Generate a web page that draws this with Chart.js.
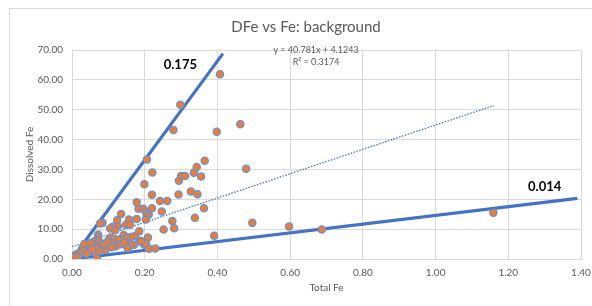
<!DOCTYPE html>
<html>
<head>
<meta charset="utf-8">
<script src="https://cdn.jsdelivr.net/npm/chart.js@4"></script>
<style>
    body { margin: 0; background: #fff; }
    #frame { position: absolute; left: 9px; top: 8px; width: 620px; height: 320px; border: 1px solid #d9d9d9; }
    #chart { position: absolute; left: 0; top: 0; }
</style>
</head>
<body>
<div id="frame"></div>
<canvas id="chart" width="592" height="306"></canvas>
<script>
// valores
const totalFe = [0.206, 0.221, 0.199, 0.294, 0.300, 0.311, 0.335, 0.343, 0.365, 0.355, 0.479, 0.220, 0.293, 0.327, 0.345,
    0.242, 0.262, 0.178, 0.183, 0.196, 0.220, 0.203, 0.211, 0.206, 0.203, 0.247, 0.363, 0.135, 0.178, 0.157,
    0.148, 0.160, 0.124, 0.126, 0.112, 0.105, 0.119, 0.084, 0.077, 0.276, 0.281, 0.252, 0.338, 0.496, 0.391,
    0.597, 0.185, 0.174, 0.162, 0.148, 0.142, 0.209, 0.185, 0.199, 0.203, 0.171, 0.162, 0.153, 0.212, 0.229,
    0.072, 0.072, 0.069, 0.061, 0.075, 0.084, 0.093, 0.102, 0.107, 0.116, 0.112, 0.102, 0.084, 0.069, 0.061,
    0.048, 0.043, 0.057, 0.034, 0.029, 0.020, 0.011, 0.040, 0.066, 0.069, 0.000, 0.006, 0.075, 0.130, 0.121,
    0.093, 0.075, 0.052, 0.034, 0.407, 0.298, 0.279, 0.398, 0.463, 1.159, 0.687, 0.065, 0.088, 0.098, 0.110,
    0.055, 0.150, 0.190, 0.135, 0.145, 0.016, 0.003];
const dissolvedFe = [33.3, 29.0, 25.0, 26.2, 27.8, 27.8, 28.9, 30.8, 32.9, 27.6, 30.2, 21.5, 21.6, 22.6, 21.7,
    19.4, 19.4, 19.0, 16.8, 16.8, 17.0, 15.7, 14.9, 14.3, 13.2, 15.9, 17.0, 15.1, 13.4, 13.2,
    11.5, 11.5, 13.0, 11.0, 10.8, 10.2, 9.6, 12.1, 11.9, 12.7, 10.3, 9.9, 13.8, 12.1, 7.8,
    10.9, 9.3, 7.8, 7.4, 7.4, 8.0, 7.2, 5.9, 4.8, 5.2, 4.8, 4.6, 3.7, 3.4, 3.5,
    8.2, 7.4, 6.5, 5.9, 5.9, 5.0, 5.2, 6.5, 7.1, 6.7, 5.2, 4.3, 3.5, 4.3, 4.6,
    4.3, 3.1, 2.6, 2.6, 3.7, 2.0, 1.5, 1.8, 1.7, 0.1, 0.2, 1.1, 4.3, 6.5, 4.3,
    3.1, 2.6, 5.4, 5.0, 61.9, 51.7, 43.2, 42.6, 45.1, 15.5, 9.9, 3.8, 4.8, 5.8, 3.9,
    3.2, 7.0, 6.0, 4.9, 5.5, 0.6, 0.5];

// retas de referência (extremos)
const upperLineX = [0, 0.415];
const upperLineY = [0, 68.8];
const lowerLineX = [0, 1.39];
const lowerLineY = [0, 20.3];
const trendX = [0, 1.16];
const trendY = [4.12, 51.4];

const xTicks = [0, 0.2, 0.4, 0.6, 0.8, 1.0, 1.2, 1.4];
const yTicks = [0, 10, 20, 30, 40, 50, 60, 70];

const FONT = 'Lato, "Open Sans", sans-serif';
const GREY = '#595959';

function pares(xs, ys) {
    return xs.map(function(x, i) { return { x: x, y: ys[i] }; });
}

// textos soltos: título, equação e rótulos das retas
const textos = {
    id: 'textos',
    afterDraw: function(chart) {
        const c = chart.ctx;
        const xs = chart.scales.x, ys = chart.scales.y;
        c.save();
        c.textAlign = 'center';
        c.textBaseline = 'middle';
        c.fillStyle = GREY;
        c.font = '15px ' + FONT;
        c.fillText('DFe vs Fe: background', 306, 27);
        c.font = '9px ' + FONT;
        c.fillText('y = 40.781x + 4.1243', 316, 50);
        c.fillText('R² = 0.3174', 316, 62);
        c.fillStyle = '#000';
        c.font = 'bold 13px ' + FONT;
        c.fillText('0.175', xs.getPixelForValue(0.298), ys.getPixelForValue(65));
        c.fillText('0.014', xs.getPixelForValue(1.30), ys.getPixelForValue(24.3));
        c.restore();
    }
};

new Chart(document.getElementById('chart'), {
    type: 'scatter',
    data: {
        datasets: [{
            label: 'DFe',
            data: pares(totalFe, dissolvedFe),
            backgroundColor: '#ED7D31',
            borderColor: '#6A90D2',
            borderWidth: 1.3,
            pointRadius: 3.6,
            order: 0
        }, {
            label: 'upper',
            data: pares(upperLineX, upperLineY),
            showLine: true,
            borderColor: '#4472C4',
            borderWidth: 3.2,
            pointRadius: 0,
            order: 1
        }, {
            label: 'lower',
            data: pares(lowerLineX, lowerLineY),
            showLine: true,
            borderColor: '#4472C4',
            borderWidth: 3.2,
            pointRadius: 0,
            order: 1
        }, {
            label: 'trend',
            data: pares(trendX, trendY),
            showLine: true,
            borderColor: '#4472C4',
            borderWidth: 1.3,
            borderDash: [1.5, 1.5],
            pointRadius: 0,
            order: 1
        }]
    },
    options: {
        responsive: false,
        animation: false,
        layout: {
            padding: { top: 50, right: 11, bottom: 0, left: 10 }
        },
        plugins: {
            legend: { display: false },
            title: { display: false },
            tooltip: { enabled: false }
        },
        scales: {
            x: {
                type: 'linear',
                min: 0,
                max: 1.4,
                afterFit: function(scale) {
                    scale.height = 47;
                    scale.paddingLeft = 0;
                    scale.paddingRight = 0;
                },
                afterBuildTicks: function(scale) {
                    scale.ticks = xTicks.map(function(v) { return { value: v }; });
                },
                ticks: {
                    padding: 8,
                    color: GREY,
                    font: { family: FONT, size: 10 },
                    callback: function(v) { return Number(v).toFixed(2); }
                },
                grid: { color: '#d9d9d9', drawTicks: false },
                border: { color: '#d9d9d9' },
                title: {
                    display: true,
                    text: 'Total Fe',
                    color: GREY,
                    font: { family: FONT, size: 10 },
                    padding: { top: 12, bottom: 12 }
                }
            },
            y: {
                type: 'linear',
                min: 0,
                max: 70,
                afterFit: function(scale) { scale.width = 62; },
                afterBuildTicks: function(scale) {
                    scale.ticks = yTicks.map(function(v) { return { value: v }; });
                },
                ticks: {
                    padding: 9,
                    color: GREY,
                    font: { family: FONT, size: 10 },
                    callback: function(v) { return Number(v).toFixed(2); }
                },
                grid: { color: '#d9d9d9', drawTicks: false },
                border: { display: false },
                title: {
                    display: true,
                    text: 'Dissolved Fe',
                    color: GREY,
                    font: { family: FONT, size: 10 },
                    padding: { top: 14, bottom: 14 }
                }
            }
        }
    },
    plugins: [textos]
});
</script>
</body>
</html>
